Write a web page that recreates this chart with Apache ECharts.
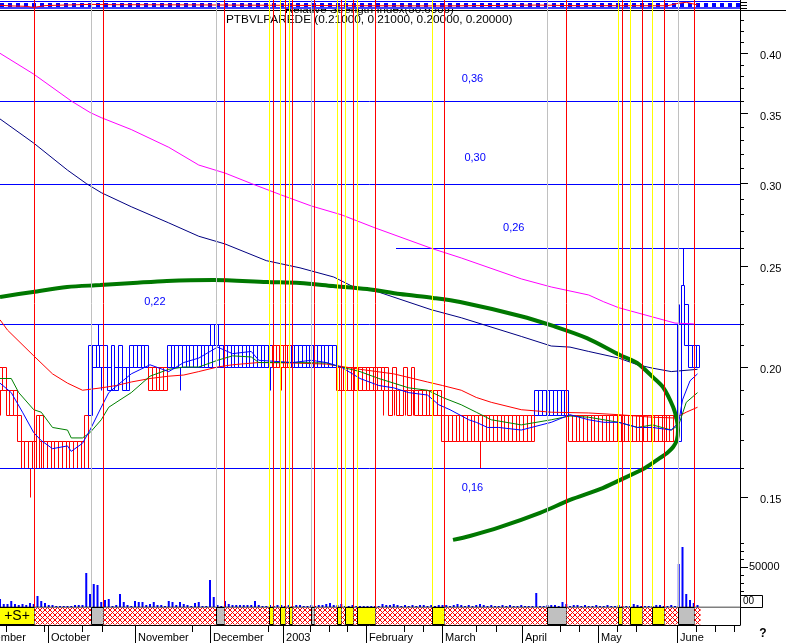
<!DOCTYPE html>
<html><head><meta charset="utf-8">
<script src="https://cdn.jsdelivr.net/npm/echarts@6/dist/echarts.min.js"></script>
<style>html,body{margin:0;padding:0;background:#fff}#c{width:786px;height:643px}</style>
</head><body><div id="c"></div>
<script>
// ---------- DATA (prices in cents, one entry per trading day) ----------
const openC = [20,20,19,19,19,18,17,17,17,17,
 18,18,17,17,17,17,17,17,17,17,
 17,17,17,18,18,20,20,20,20,19,
 19,19,20,19,19,20,20,20,20,20,
 20,20,20,20,20,20,20,20,20,20,
 20,20,20,20,20,20,20,20,20,20,
 20,20,20,20,20,20,20,20,20,20,
 20,20,20,21,21,21,21,21,20,20,
 20,20,20,20,20,20,20,20,20,20,
 20,20,20,20,20,20,20,20,20,20,
 20,20,20,20,19,20,19,19,20,19,
 20,19,19,19,19,19,19,19,18,18,
 18,18,18,18,18,18,18,18,18,18,
 18,18,18,18,18,18,18,18,18,18,
 18,18,18,18,18,18,18,18,18,18,
 18,18,18,18,18,18,18,18,18,18,
 18,18,18,18,18,18,18,18,18,18,
 18,18,18,18,18,18,18,18,18,18,
 18,17,22,21,20,20,20];
const highC = [20,20,19,19,19,18,17,17,17,17,
 18,18,17,17,17,17,17,17,17,17,
 17,17,17,18,21,21,22,21,21,20,
 21,20,21,20,20,21,21,21,21,21,
 20,20,20,20,20,21,21,21,21,21,
 21,21,21,21,21,21,22,22,22,21,
 21,21,21,21,21,21,21,21,21,21,
 21,21,21,21,21,21,21,21,21,21,
 21,21,21,21,21,21,21,21,21,21,
 20,20,20,20,20,20,20,20,20,20,
 20,20,20,20,19,20,19,19,20,19,
 20,19,19,19,19,19,19,19,18,18,
 18,18,18,18,18,18,18,18,18,18,
 18,18,18,18,18,18,18,18,18,18,
 18,18,18,19,19,19,19,19,19,19,
 19,19,18,18,18,18,18,18,18,18,
 18,18,18,18,18,18,18,18,18,18,
 18,18,18,18,18,18,18,18,18,18,
 18,23,26,23,21,21,21];
const lowC = [18,19,18,18,18,17,16,16,15,15,
 16,16,16,16,16,16,16,16,16,16,
 16,16,16,16,18,20,20,19,20,19,
 19,19,20,19,19,20,20,20,20,20,
 19,19,19,19,19,20,20,20,19,20,
 20,20,20,20,20,20,20,20,20,20,
 20,20,20,20,20,20,20,20,20,20,
 20,20,19,20,20,19,19,20,20,20,
 20,20,20,20,20,20,20,20,20,20,
 19,19,19,19,19,19,19,19,19,19,
 18,19,18,19,18,18,18,18,18,18,
 18,18,18,18,18,18,18,18,17,17,
 17,17,17,17,17,17,17,17,16,17,
 17,17,17,17,17,17,17,17,17,17,
 17,17,17,18,18,18,18,18,18,18,
 18,18,17,17,17,17,17,17,17,17,
 17,17,17,17,17,17,17,17,17,17,
 17,17,17,17,17,17,17,17,17,17,
 17,17,22,21,20,20,20];
const closeC = [19,19,18,18,18,17,16,16,16,16,
 16,17,16,16,16,16,16,16,16,16,
 16,16,16,16,21,21,21,21,21,20,
 21,20,21,20,20,21,21,21,21,21,
 19,19,19,19,19,21,21,21,21,21,
 21,21,21,21,21,21,21,21,21,21,
 21,21,21,21,21,21,21,21,21,21,
 21,21,21,20,20,20,20,20,21,21,
 21,21,21,21,21,21,21,21,21,21,
 19,19,19,19,19,19,19,19,19,19,
 19,19,19,19,18,19,18,18,19,18,
 19,18,18,18,18,18,18,18,17,17,
 17,17,17,17,17,17,17,17,17,17,
 17,17,17,17,17,17,17,17,17,17,
 17,17,17,19,19,19,19,19,19,19,
 19,19,17,17,17,17,17,17,17,17,
 17,17,17,17,17,17,17,17,17,17,
 17,17,17,17,17,17,17,17,17,17,
 17,22,24,23,21,21,21];
const volume = [10000,3750,3750,7500,3750,2500,3750,2500,5000,3750,
 13750,7500,5000,2500,2500,1250,1250,1250,1250,1250,
 2500,2500,2500,42500,16250,28750,27500,6250,8750,10000,
 1250,2500,16250,6250,2500,1250,7500,6250,6250,2500,
 3750,6250,2500,2500,1250,7500,6250,2500,6250,3750,
 2500,1250,5000,6250,1250,1250,33750,12500,2500,1250,
 7500,3750,2500,2500,2500,2500,2500,2500,7500,2500,
 1250,1250,2500,1250,2500,2500,1250,2500,1250,2500,
 2500,1250,1250,2500,1250,2500,2500,3750,5000,2500,
 2500,3750,1250,1250,2500,1250,1250,1250,1250,1250,
 1250,1250,3750,2500,2500,3750,2500,1250,2500,1250,
 2500,1250,2500,2500,1250,2500,1250,2500,2500,2500,
 1250,2500,3750,2500,1250,2500,1250,2500,3750,2500,
 1250,2500,1250,1250,2500,1250,2500,1250,1250,2500,
 1250,1250,1250,17500,1250,1250,2500,2500,2500,1250,
 6250,3750,1250,2500,2500,1250,2500,1250,1250,2500,
 1250,1250,2500,1250,1250,2500,1250,1250,1250,3750,
 2500,1250,1250,1250,1250,2500,2500,1250,1250,2500,
 1250,53750,75000,16250,8750,5000,2500];

// moving averages: [day, price]
const maBlue = [[0,0.193],[3,0.189],[6,0.181],[9,0.173],[11,0.170],[14,0.167],[18,0.168],[19,0.166],[22,0.169],[24,0.174],[27,0.183],[29,0.189],[32,0.193],[35,0.197],[40,0.201],[45,0.198],[49,0.202],[53,0.204],[58,0.209],[62,0.206],[67,0.207],[69,0.203],[78,0.202],[83,0.203],[87,0.202],[91,0.200],[96,0.195],[101,0.192],[105,0.191],[109,0.189],[114,0.188],[117,0.184],[120,0.182],[125,0.178],[127,0.177],[130,0.175],[133,0.175],[139,0.174],[147,0.177],[152,0.180],[157,0.178],[161,0.177],[165,0.177],[170,0.175],[174,0.175],[179,0.174],[181,0.177],[182,0.186],[184,0.194],[186,0.197]];
const maGreen = [[0,0.195],[3,0.195],[5,0.189],[9,0.182],[11,0.181],[14,0.175],[18,0.174],[19,0.171],[22,0.171],[24,0.173],[27,0.178],[29,0.183],[32,0.186],[35,0.189],[40,0.196],[45,0.199],[49,0.200],[53,0.200],[58,0.203],[62,0.205],[67,0.2045],[69,0.202],[78,0.202],[87,0.2018],[91,0.200],[96,0.198],[101,0.195],[105,0.193],[109,0.191],[114,0.190],[118,0.187],[123,0.184],[127,0.181],[131,0.178],[139,0.176],[147,0.178],[152,0.1795],[157,0.179],[165,0.177],[170,0.175],[174,0.176],[179,0.174],[181,0.176],[183,0.185],[186,0.189]];
const maRed = [[0,0.222],[2,0.217],[9,0.205],[14,0.197],[18,0.193],[22,0.190],[27,0.191],[31,0.192],[35,0.1935],[40,0.195],[45,0.196],[49,0.1965],[53,0.198],[58,0.200],[62,0.201],[69,0.202],[78,0.2018],[87,0.2013],[96,0.199],[105,0.197],[114,0.1935],[118,0.192],[123,0.190],[127,0.187],[131,0.185],[139,0.182],[147,0.181],[157,0.1807],[165,0.180],[174,0.179],[180,0.1787],[183,0.181],[186,0.183]];
const maNavy = [[0,0.346],[9,0.328],[18,0.309],[23,0.300],[27,0.294],[35,0.285],[45,0.275],[53,0.267],[60,0.2625],[71,0.253],[80,0.249],[89,0.244],[94,0.239],[101,0.236],[115,0.227],[123,0.223],[139,0.214],[147,0.2095],[152,0.209],[157,0.207],[165,0.204],[170,0.201],[174,0.1995],[179,0.198],[184,0.1987],[186,0.199]];
const maMagenta = [[0,0.400],[9,0.382],[19,0.360],[24,0.351],[27,0.347],[35,0.338],[45,0.325],[53,0.3125],[60,0.307],[67,0.300],[75,0.2925],[83,0.2855],[91,0.280],[100,0.272],[115,0.260],[123,0.2545],[139,0.243],[147,0.2387],[157,0.2345],[161,0.231],[165,0.228],[174,0.2234],[180,0.2204],[185,0.220]];
// hand-drawn arc (trendline tool)
const arcPts = [[0,0.2335],[8.8,0.2361],[17.9,0.2387],[26.7,0.2397],[35.5,0.2408],[44.5,0.2419],[56.8,0.2424],[71.2,0.2413],[80,0.2408],[88.8,0.2392],[97.9,0.2376],[106.7,0.2350],[115.5,0.2330],[122.7,0.2309],[138.7,0.2239],[147.5,0.2190],[156.5,0.2132],[165.3,0.2054],[169.9,0.2018],[174.1,0.1956],[176.8,0.1913],[179.5,0.1831],[180.5,0.1779],[180.8,0.1740],[180.5,0.1702],[179.5,0.1676],[177.9,0.1654],[176,0.1636],[172,0.1600],[165.3,0.1558],[160,0.1527],[152,0.1491],[144,0.1449],[133.3,0.1404],[125.3,0.1377],[120.8,0.1365]];
// RSI (top strip)
const rsi = [[0,45],[3,35],[7,28],[9,10],[12,40],[24,60],[30,55],[50,52],[73,45],[90,40],[100,38],[118,35],[143,48],[152,40],[178,38],[181,80],[183,95],[186,50.6]];
// horizontal level lines
const levelValues = [0.36, 0.30, 0.26, 0.22, 0.16];
const levelLabels = ['0,36', '0,30', '0,26', '0,22', '0,16'];
const levelLabelDay = [126, 126.7, 137, 41.3, 126];
const levelStartDay = [-32/3, -32/3, 105.6, -32/3, -32/3];
// expert band segments [startDay, endDay] and type (s = signal, g = grey, x = neutral)
const bandSeg = [[-10.67,9.07],[9.07,24.27],[24.27,27.47],[27.47,57.6],[57.6,59.73],[59.73,71.73],[71.73,72.8],[72.8,74.67],[74.67,76],[76,77.07],[77.07,77.87],[77.87,82.93],[82.93,83.73],[83.73,89.87],[89.87,90.93],[90.93,92],[92,94.13],[94.13,95.2],[95.2,100],[100,115.2],[115.2,118.4],[118.4,145.87],[145.87,150.93],[150.93,164.8],[164.8,165.87],[165.87,168],[168,171.2],[171.2,173.87],[173.87,177.07],[177.07,180.8],[180.8,185.07],[185.07,186.67]];
const bandType = ['s','x','g','x','g','x','s','x','s','x','s','x','g','x','s','x','s','x','s','x','s','x','g','x','s','x','s','x','s','x','g','x'];
// vertical signal lines [day, kind]
const vLines = [[9.07,'r'],[24.27,'g'],[27.47,'r'],[57.6,'g'],[59.73,'r'],[71.73,'y'],[72.8,'r'],[74.67,'y'],[76,'r'],[77.07,'y'],[77.87,'r'],[82.93,'g'],[83.73,'r'],[89.87,'y'],[90.93,'r'],[92,'y'],[94.13,'r'],[95.2,'y'],[100,'r'],[115.2,'y'],[118.4,'r'],[145.87,'g'],[150.93,'r'],[164.8,'y'],[165.87,'r'],[168,'y'],[171.2,'r'],[173.87,'y'],[177.07,'r'],[180.8,'g'],[185.07,'r']];
// axis ticks / labels
const monthTicks = [-8.27, 12.8, 36, 56, 75.47, 97.6, 117.87, 139.2, 159.47, 180.53];
const monthLabels = ['September','October','November','December','2003','February','March','April','May','June'];
const weekTicks = [1.6, 11.73, 21.87, 27.2, 51.2, 71.47, 82.67, 87.73, 92.53, 107.73, 112.8, 126.93, 132.27, 149.33, 154.4, 164.53, 169.6, 185.6, 190.67, 195.73];
const priceMajor = [0.15, 0.20, 0.25, 0.30, 0.35, 0.40];
const priceMinor = [0.16,0.17,0.18,0.19,0.21,0.22,0.23,0.24,0.26,0.27,0.28,0.29,0.31,0.32,0.33,0.34,0.36,0.37,0.38,0.39,0.41,0.42,0.43,0.44];
const volLabelValues = [50000];

// ---------- CHART ----------
const XMIN = -32/3, XMAX = 592/3;
const YMIN = -2.13964, YMAX = -0.79850;
const L = Math.log;
const BLUE = '#0000ff', RED = '#ff0000';
const FONT = '"Liberation Sans", Arial, sans-serif';

const hatchCanvas = document.createElement('canvas');
hatchCanvas.width = 5; hatchCanvas.height = 5;
(function(){
  const g = hatchCanvas.getContext('2d');
  g.fillStyle = '#fff'; g.fillRect(0,0,5,5);
  g.fillStyle = '#ff0000';
  for (let k = 0; k < 5; k++) { g.fillRect(k, k, 1, 1); g.fillRect(4-k, k, 1, 1); }
})();
const hatch = {image: hatchCanvas, repeat: 'repeat'};

const gridBase = {left: -40, right: 46, containLabel: false, outerBoundsMode: 'none'};
const grids = [
  Object.assign({top: 0, height: 607}, gridBase),   // 0 price
  Object.assign({top: 0, height: 607}, gridBase),   // 1 price minor ticks
  Object.assign({top: 543, height: 64}, gridBase),  // 2 volume
  Object.assign({top: 543, height: 64}, gridBase),  // 3 volume label
  Object.assign({top: 607, height: 18}, gridBase),  // 4 band + month axis
  Object.assign({top: 607, height: 18}, gridBase),  // 5 week ticks
  Object.assign({top: 2, height: 6}, gridBase)      // 6 rsi strip
];
const noSplit = {splitLine:{show:false}, splitArea:{show:false}, minorTick:{show:false}, minorSplitLine:{show:false}};
const hiddenX = i => Object.assign({type:'value', gridIndex:i, min:XMIN, max:XMAX, show:false, axisLine:{show:false, onZero:false}}, noSplit);
const xAxes = [hiddenX(0), hiddenX(1), hiddenX(2), hiddenX(3),
  Object.assign({type:'value', gridIndex:4, min:XMIN, max:XMAX, position:'bottom',
   axisLine:{show:true, onZero:false, lineStyle:{color:'#000', width:1}},
   axisTick:{show:true, customValues: monthTicks, length:18, lineStyle:{color:'#000'}},
   axisLabel:{show:true, customValues: monthTicks, formatter: v => monthLabels[monthTicks.indexOf(v)] || '', align:'left', padding:[0,0,0,3], margin:7, fontSize:11, fontFamily:FONT, color:'#000'}}, noSplit),
  Object.assign({type:'value', gridIndex:5, min:XMIN, max:XMAX, position:'bottom',
   axisLine:{show:false, onZero:false}, axisTick:{show:true, customValues: weekTicks, length:7, lineStyle:{color:'#000'}},
   axisLabel:{show:false}}, noSplit),
  hiddenX(6)
];
const yAxes = [
  Object.assign({type:'value', gridIndex:0, min:YMIN, max:YMAX, position:'right',
   axisLine:{show:true, onZero:false, lineStyle:{color:'#000'}},
   axisTick:{show:true, customValues: priceMajor.map(L), length:8, lineStyle:{color:'#000'}},
   axisLabel:{show:true, customValues: priceMajor.map(L), formatter: v => Math.exp(v).toFixed(2), margin:20, verticalAlign:'top', lineHeight:6, fontSize:11, fontFamily:FONT, color:'#000'}}, noSplit),
  Object.assign({type:'value', gridIndex:1, min:YMIN, max:YMAX, position:'right',
   axisLine:{show:false, onZero:false}, axisTick:{show:true, customValues: priceMinor.map(L), length:4, lineStyle:{color:'#000'}},
   axisLabel:{show:false}}, noSplit),
  Object.assign({type:'value', gridIndex:2, min:0, max:80000, interval:10000, position:'right',
   axisLine:{show:true, onZero:false, lineStyle:{color:'#000'}}, axisTick:{show:true, length:4, lineStyle:{color:'#000'}},
   axisLabel:{show:false}}, noSplit),
  Object.assign({type:'value', gridIndex:3, min:0, max:80000, position:'right',
   axisLine:{show:false, onZero:false}, axisTick:{show:true, customValues: volLabelValues, length:8, lineStyle:{color:'#000'}},
   axisLabel:{show:true, customValues: volLabelValues, formatter: v => String(v), margin:9, fontSize:11, fontFamily:FONT, color:'#000'}}, noSplit),
  Object.assign({type:'value', gridIndex:4, min:0, max:1, position:'right',
   axisLine:{show:true, onZero:false, lineStyle:{color:'#000'}}, axisTick:{show:false}, axisLabel:{show:false}}, noSplit),
  Object.assign({type:'value', gridIndex:5, min:0, max:1, show:false, axisLine:{show:false, onZero:false}}, noSplit),
  Object.assign({type:'value', gridIndex:6, min:0, max:100, position:'right',
   axisLine:{show:false, onZero:false}, axisTick:{show:true, customValues:[0,50,100], length:7, lineStyle:{color:'#000'}},
   axisLabel:{show:false}}, noSplit)
];

const candleData = openC.map((o, i) => [i, L(o/100), L(highC[i]/100), L(lowC[i]/100), L(closeC[i]/100)]);
function renderCandle(params, api) {
  const i = api.value(0), o = api.value(1), h = api.value(2), l = api.value(3), c = api.value(4);
  const col = c >= o ? BLUE : RED;
  const cx = api.coord([i, o])[0];
  const half = api.size([1, 0])[0] / 2;
  const yO = api.coord([i, o])[1], yC = api.coord([i, c])[1];
  const yH = Math.round(api.coord([i, h])[1]) + 0.5, yL = Math.round(api.coord([i, l])[1]) + 0.5;
  const x0 = Math.round(cx - half) + 0.5, x1 = Math.round(cx + half) + 0.5, xm = Math.round(cx) + 0.5;
  const yT = Math.round(Math.min(yO, yC)) + 0.5, yB = Math.round(Math.max(yO, yC)) + 0.5;
  return {type:'group', children:[
    {type:'line', shape:{x1:xm, y1:yH, x2:xm, y2:yT}, style:{stroke:col, lineWidth:1}},
    {type:'line', shape:{x1:xm, y1:yB, x2:xm, y2:yL}, style:{stroke:col, lineWidth:1}},
    {type:'rect', shape:{x:x0, y:yT, width:x1 - x0, height:Math.max(yB - yT, 0)}, style:{fill:'none', stroke:col, lineWidth:1}}
  ]};
}
function renderBand(params, api) {
  const t = bandType[params.dataIndex];
  const p0 = api.coord([api.value(0), 1]), p1 = api.coord([api.value(1), 0]);
  const x0 = Math.round(p0[0]) + 0.5, x1 = Math.round(p1[0]) + 0.5;
  const y0 = Math.round(p0[1]) + 0.5, y1 = Math.round(p1[1]) - 0.5;
  if (t === 'x') return {type:'rect', shape:{x:x0, y:y0, width:x1-x0, height:y1-y0}, style:{fill:hatch, stroke:null}};
  return {type:'rect', shape:{x:x0, y:y0, width:x1-x0, height:y1-y0}, style:{fill: t === 's' ? '#ffff00' : '#c0c0c0', stroke:'#000', lineWidth:1}};
}
// level lines drawn as a custom series from the level values
function renderLevel(params, api) {
  const a = api.coord([api.value(0), api.value(1)]), b = api.coord([XMAX, api.value(1)]);
  const y = Math.round(a[1]) + 0.5;
  return {type:'line', shape:{x1:a[0], y1:y, x2:b[0], y2:y}, style:{stroke:BLUE, lineWidth:1}};
}
const vColor = {r:'#ff0000', y:'#ffff00', g:'#c0c0c0'};
const lineSeries = (data, color, width, extra) => Object.assign({
  type:'line', xAxisIndex:0, yAxisIndex:0, data: data.map(p => [p[0], L(p[1])]),
  showSymbol:false, symbol:'none', silent:true, lineStyle:{color, width}, z:3
}, extra || {});
const labelOffsets = [-22, -26, -20, -22, 20];

const option = {
  animation: false,
  backgroundColor: '#fff',
  color: [BLUE],
  textStyle: {fontFamily: FONT},
  grid: grids, xAxis: xAxes, yAxis: yAxes,
  series: [
    {type:'custom', name:'price', xAxisIndex:0, yAxisIndex:0, data: candleData, encode:{x:0, y:[1,2,3,4]}, renderItem: renderCandle, silent:true, z:2},
    {type:'line', name:'signals', xAxisIndex:0, yAxisIndex:0, data: [], silent:true, z:2,
     markLine:{silent:true, symbol:['none','none'], label:{show:false}, animation:false,
       data: vLines.map(v => ({xAxis: v[0], lineStyle:{color: vColor[v[1]], width:1, type:'solid'}}))}},
    {type:'bar', name:'volume', xAxisIndex:2, yAxisIndex:2, data: volume.map((v, i) => [i, v]), barWidth:2, itemStyle:{color:BLUE}, silent:true, z:2},
    {type:'custom', name:'levels', xAxisIndex:0, yAxisIndex:0, data: levelValues.map((v, k) => [levelStartDay[k], L(v)]), encode:{x:0, y:1}, renderItem: renderLevel, silent:true, z:3,
     markPoint:{silent:true, symbol:'circle', symbolSize:0, animation:false,
       label:{show:true, formatter:'{c}', color:BLUE, fontSize:11, fontFamily:FONT},
       data: levelValues.map((v, k) => ({coord:[levelLabelDay[k], L(v)], value: levelLabels[k], label:{offset:[0, labelOffsets[k]]}}))}},
    lineSeries(maMagenta, '#ff00ff', 1),
    lineSeries(maNavy, '#000080', 1),
    lineSeries(maRed, RED, 1),
    lineSeries(maGreen, '#008000', 1),
    lineSeries(maBlue, BLUE, 1),
    lineSeries(arcPts, '#007800', 4, {smooth:0.3, z:4}),
    {type:'custom', name:'band', xAxisIndex:4, yAxisIndex:4, data: bandSeg, encode:{x:[0,1]}, renderItem: renderBand, silent:true, z:2},
    {type:'line', name:'bandFrame', xAxisIndex:4, yAxisIndex:4, data:[[XMIN,1],[XMAX,1]], showSymbol:false, symbol:'none', silent:true, lineStyle:{color:'#000', width:1}, z:3},
    {type:'line', name:'rsi', xAxisIndex:6, yAxisIndex:6, data: rsi, showSymbol:false, symbol:'none', silent:true, lineStyle:{color:RED, width:1}, z:3}
  ],
  graphic: [
    {type:'text', x:285, y:10, z:0, style:{text:'Relative Strength Index(50.6306)', font:'11.5px ' + FONT, fill:'#000', verticalAlign:'middle'}},
    {type:'text', x:226, y:20, z:0, style:{text:'PTBVLPAREDE (0.21000, 0.21000, 0.20000, 0.20000)', font:'11.8px ' + FONT, fill:'#000', verticalAlign:'middle'}},
    {type:'rect', z:1, shape:{x:0, y:0, width:740, height:9}, style:{fill:'#fff'}},
    {type:'line', z:1, shape:{x1:0, y1:1.5, x2:740, y2:1.5}, style:{stroke:BLUE, lineWidth:1}},
    {type:'line', z:1, shape:{x1:0, y1:5, x2:740, y2:5}, style:{stroke:BLUE, lineWidth:4, lineDash:[4,4]}},
    {type:'line', z:1, shape:{x1:0, y1:8, x2:740, y2:8}, style:{stroke:BLUE, lineWidth:1.5}},
    {type:'line', z:1, shape:{x1:0, y1:10.5, x2:786, y2:10.5}, style:{stroke:'#000', lineWidth:1}},
    {type:'text', z:10, x:17, y:616, style:{text:'+S+', font:'14px ' + FONT, fill:'#000', align:'center', verticalAlign:'middle'}},
    {type:'rect', z:10, shape:{x:740.5, y:595.5, width:22, height:12}, style:{fill:'#fff', stroke:'#000', lineWidth:1}},
    {type:'text', z:11, x:743, y:601.5, style:{text:'00', font:'10px ' + FONT, fill:'#000', verticalAlign:'middle'}},
    {type:'text', z:10, x:763, y:634, style:{text:'?', font:'bold 12px ' + FONT, fill:'#000', align:'center', verticalAlign:'middle'}}
  ]
};
const chart = echarts.init(document.getElementById('c'), null, {renderer:'canvas'});
chart.setOption(option);
</script></body></html>
